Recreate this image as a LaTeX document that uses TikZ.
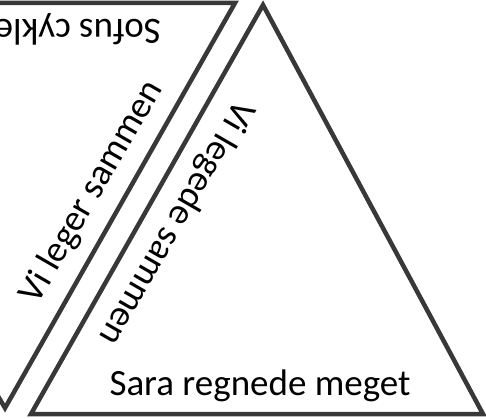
\documentclass[tikz,border=0pt]{standalone}
\usepackage{fontspec}
\setmainfont{Carlito}
\begin{document}
\begin{tikzpicture}[x=1pt,y=1pt,
    side/.style={draw=black!78,line width=4.5pt,line join=miter},
    lbl/.style={inner sep=0pt,font=\fontsize{37}{41}\selectfont}]
    \useasboundingbox (0,0) rectangle (486,-419);
    % venstre trekant (vendt om)
    \coordinate (P1) at (-233,-3);
    \coordinate (P2) at (235,-3);
    \coordinate (P3) at (5,-408);
    \draw[side] (P1)--(P2)--(P3)--cycle;
    % hoejre trekant
    \coordinate (Q1) at (263,-5);
    \coordinate (Q2) at (31,-414);
    \coordinate (Q3) at (483,-414);
    \draw[side] (Q1)--(Q2)--(Q3)--cycle;
    \path
    (161,-20) node (sofus)[lbl,rotate=180,anchor=base west]{Sofus cykle}
    (92,-192) node (leger)[lbl,rotate=60]{Vi leger sammen}
    (176,-223) node (legede)[lbl,rotate=-120]{Vi legede sammen}
    (260,-395) node (sara)[lbl,anchor=base]{Sara regnede meget};
\end{tikzpicture}
\end{document}
